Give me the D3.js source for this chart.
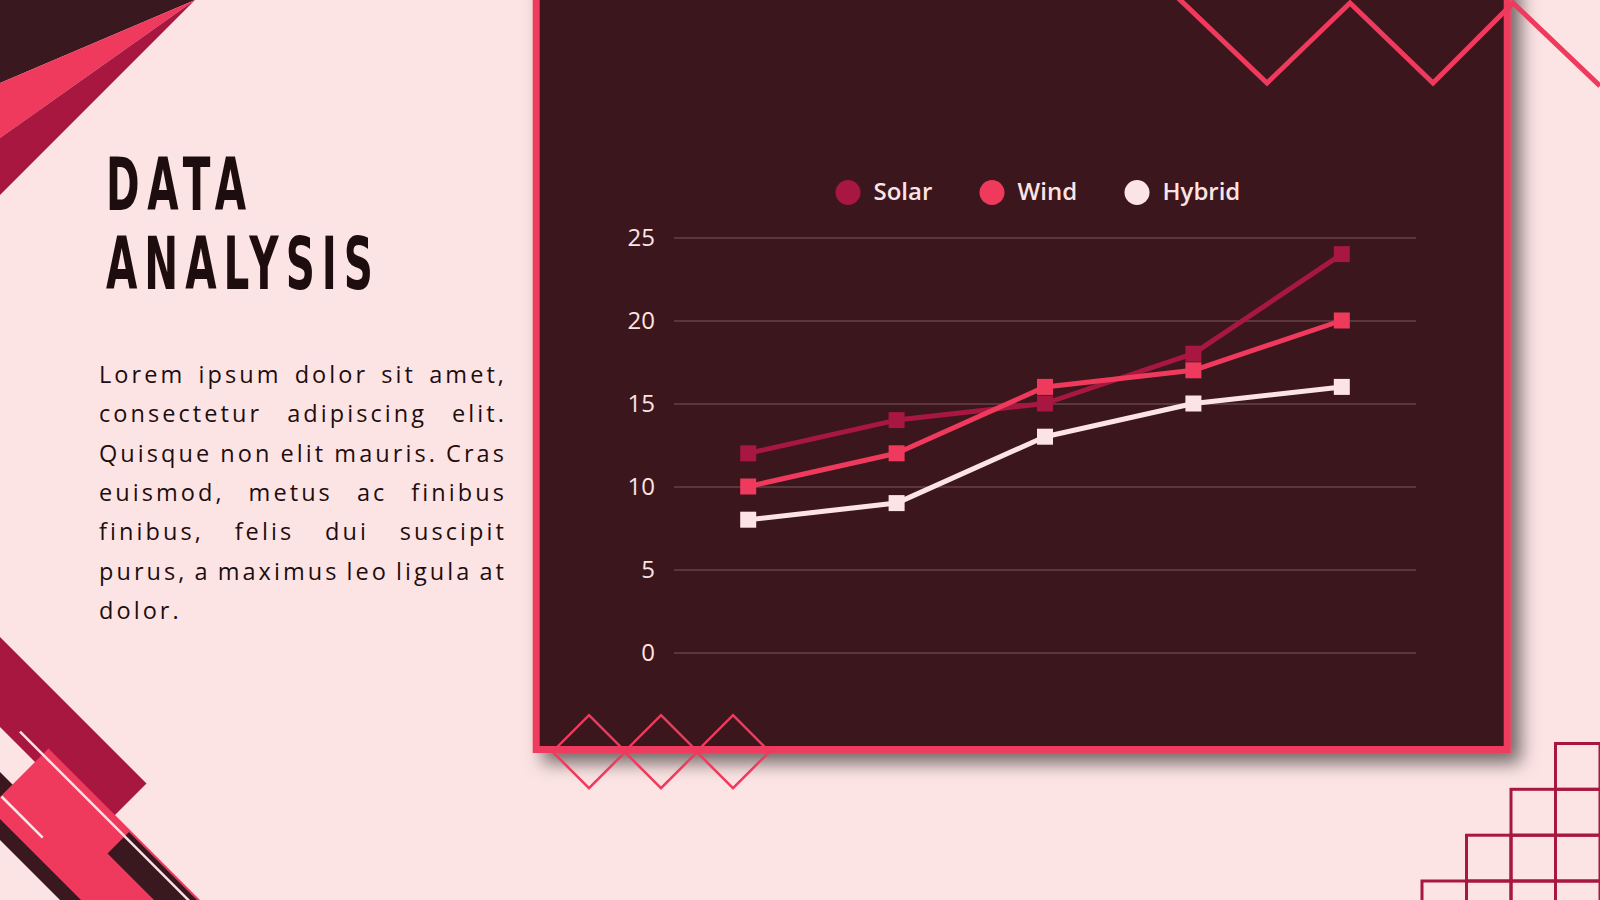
<!DOCTYPE html>
<html>
<head>
<meta charset="utf-8">
<title>Data Analysis</title>
<script src="https://cdn.jsdelivr.net/npm/d3@7"></script>
<style>
  html, body { margin: 0; padding: 0; background: #fde4e4; }
  svg { display: block; }
</style>
</head>
<body>
<div id="slide"></div>
<script>
// ==============================
// DATA
// ==============================

const periods = ["P1", "P2", "P3", "P4", "P5"];   // x categories (not labelled on the slide)
const seriesNames = ["Solar", "Wind", "Hybrid"];
const solarValues = [12, 14, 15, 18, 24];
const windValues = [10, 12, 16, 17, 20];
const hybridValues = [8, 9, 13, 15, 16];
const yTicks = [0, 5, 10, 15, 20, 25];

const titleLines = ["DATA", "ANALYSIS"];
const paragraphLines = [
  "Lorem ipsum dolor sit amet,",
  "consectetur adipiscing elit.",
  "Quisque non elit mauris. Cras",
  "euismod, metus ac finibus",
  "finibus, felis dui suscipit",
  "purus, a maximus leo ligula at",
  "dolor."
];

// palette
const bg = "#fde4e4";
const dark = "#3a181f";
const ink = "#1e0d0f";
const crimson = "#a8173f";
const rose = "#ef3a5d";

const seriesColors = [crimson, rose, bg];
const seriesValues = [solarValues, windValues, hybridValues];

// ==============================
// SVG SETUP
// ==============================

const width = 1600;
const height = 900;

const svg = d3.select("#slide")
  .append("svg")
  .attr("width", width)
  .attr("height", height);

svg.append("rect")
  .attr("width", width)
  .attr("height", height)
  .attr("fill", bg);

const defs = svg.append("defs");

// soft shadow under the chart panel
defs.append("filter")
  .attr("id", "panel-shadow")
  .attr("x", "-10%").attr("y", "-10%")
  .attr("width", "125%").attr("height", "125%")
  .append("feDropShadow")
  .attr("dx", 10)
  .attr("dy", 10)
  .attr("stdDeviation", 9)
  .attr("flood-color", "#000")
  .attr("flood-opacity", 0.55);

// ==============================
// DECORATION (corners)
// ==============================

// top-left fan of triangles
const fan = [
  { pts: [[0, 0], [195, 0], [0, 83]], fill: dark },
  { pts: [[0, 83], [195, 0], [0, 138]], fill: rose },
  { pts: [[0, 138], [195, 0], [0, 195]], fill: crimson }
];
svg.append("g")
  .selectAll("polygon")
  .data(fan)
  .enter()
  .append("polygon")
  .attr("points", d => d.pts.join(" "))
  .attr("fill", d => d.fill);

// bottom-left diagonal bands
const bands = [
  { pts: [[-100, 537], [146.5, 783.5], [101.5, 828.5], [-100, 627]], fill: crimson },
  { pts: [[-100, 672], [300, 1072], [300, 1140], [-100, 740]], fill: dark },
  { pts: [[48.5, 748.5], [300, 1000], [300, 1119], [-11, 808]], fill: rose },
  { pts: [[129, 832], [400, 1103], [400, 1146], [107.5, 853.5]], fill: dark }
];
const cornerBL = svg.append("g");
cornerBL.selectAll("polygon")
  .data(bands)
  .enter()
  .append("polygon")
  .attr("points", d => d.pts.join(" "))
  .attr("fill", d => d.fill);

cornerBL.selectAll("line")
  .data([[20, 731.7, 220, 931.7], [1.5, 796.5, 42.7, 837.7]])
  .enter()
  .append("line")
  .attr("x1", d => d[0]).attr("y1", d => d[1])
  .attr("x2", d => d[2]).attr("y2", d => d[3])
  .attr("stroke", bg)
  .attr("stroke-width", 2.5);

// bottom-right stair grid
const gridX = [1422, 1466.5, 1511, 1555.5, 1600];
const gridY = [743.5, 789.3, 835.2, 881, 927];
const cells = [];
for (let r = 0; r < 4; r++) {
  for (let c = 3 - r; c < 4; c++) cells.push({ r, c });
}
svg.append("g")
  .selectAll("rect")
  .data(cells)
  .enter()
  .append("rect")
  .attr("x", d => gridX[d.c])
  .attr("y", d => gridY[d.r])
  .attr("width", d => gridX[d.c + 1] - gridX[d.c])
  .attr("height", d => gridY[d.r + 1] - gridY[d.r])
  .attr("fill", "none")
  .attr("stroke", crimson)
  .attr("stroke-width", 3);

// ==============================
// TITLE + PARAGRAPH
// ==============================

// narrow, heavy display lettering: squeeze the glyphs, then spread them out a little
const titleWidths = [140, 267];
const titleGap = 7;
const titles = svg.append("g")
  .selectAll("text")
  .data(titleLines)
  .enter()
  .append("text")
  .attr("font-family", "'DejaVu Sans Condensed', 'DejaVu Sans', sans-serif")
  .attr("font-weight", 700)
  .attr("font-size", 73)
  .attr("fill", ink)
  .text(d => d);

const titleNatural = titles.nodes().map(n => n.getComputedTextLength());
const titleSqueeze = d3.min(titleLines, (t, i) =>
  (titleWidths[i] - titleGap * (t.length - 1)) / titleNatural[i]);

titles
  .attr("transform", (d, i) => `translate(106,${210 + i * 78.5}) scale(${titleSqueeze},1)`)
  .attr("textLength", (d, i) => titleWidths[i] / titleSqueeze)
  .attr("lengthAdjust", "spacing");

// justified body text: place words one by one
const paraLeft = 99;
const paraWidth = 408;
const para = svg.append("g")
  .attr("font-family", "'Open Sans', sans-serif")
  .attr("font-size", 23.5)
  .attr("fill", ink);

const lineNodes = paragraphLines.map((line, i) => {
  const words = line.split(" ");
  const nodes = words.map(w => para.append("text").attr("y", 383 + i * 39.3).text(w));
  const w0 = nodes.map(n => n.node().getComputedTextLength());
  return { words, nodes, w0 };
});

// widest letter-spacing that still leaves a normal word gap on the tightest line
const minGap = 7;
const spacing = d3.min(lineNodes.slice(0, -1), l => {
  const chars = d3.sum(l.words, w => w.length);
  return (paraWidth - d3.sum(l.w0) - minGap * (l.words.length - 1)) / chars;
});

lineNodes.forEach((l, i) => {
  const widths = l.words.map((w, k) => l.w0[k] + spacing * w.length);
  const isLast = i === lineNodes.length - 1;
  const gap = isLast || l.words.length < 2
    ? minGap
    : (paraWidth - d3.sum(widths)) / (l.words.length - 1);
  let x = paraLeft;
  l.nodes.forEach((n, k) => {
    n.attr("x", x).attr("letter-spacing", spacing);
    x += widths[k] + gap;
  });
});

// ==============================
// CHART PANEL
// ==============================

svg.append("rect")
  .attr("x", 536.2)
  .attr("y", -20)
  .attr("width", 971)
  .attr("height", 769.5)
  .attr("fill", dark)
  .attr("stroke", rose)
  .attr("stroke-width", 7)
  .attr("filter", "url(#panel-shadow)");

// zigzag at the top edge
svg.append("polyline")
  .attr("points", [[1175, -5], [1267, 83], [1350, 3], [1433, 83], [1513, 3], [1600, 86]].join(" "))
  .attr("fill", "none")
  .attr("stroke", rose)
  .attr("stroke-width", 5)
  .attr("stroke-linejoin", "miter");

// diamonds on the bottom border
const diamondCx = [589, 661, 733];
svg.append("g")
  .selectAll("path")
  .data(diamondCx)
  .enter()
  .append("path")
  .attr("d", cx => `M${cx},715.2 L${cx + 36.5},751.7 L${cx},788.2 L${cx - 36.5},751.7 Z`)
  .attr("fill", "none")
  .attr("stroke", rose)
  .attr("stroke-width", 2.5);

// ==============================
// LINE CHART
// ==============================

const x = d3.scalePoint()
  .domain(periods)
  .range([674, 1416])
  .padding(0.5);

const y = d3.scaleLinear()
  .domain([0, 25])
  .range([652.5, 237.5]);

const yAxis = d3.axisLeft(y)
  .tickValues(yTicks)
  .tickSizeInner(-(1416 - 674))
  .tickSizeOuter(0)
  .tickPadding(19);

const axisG = svg.append("g")
  .attr("transform", "translate(674,0)")
  .call(yAxis);

axisG.select(".domain").remove();
axisG.selectAll(".tick line")
  .attr("stroke", bg)
  .attr("stroke-opacity", 0.22)
  .attr("stroke-width", 1.3);
axisG.selectAll(".tick text")
  .attr("fill", bg)
  .attr("font-family", "'Open Sans', sans-serif")
  .attr("font-weight", 500)
  .attr("font-size", 24);

const lineGen = d3.line()
  .x((d, i) => x(periods[i]))
  .y(d => y(d));

const series = svg.append("g")
  .selectAll("g")
  .data(seriesValues)
  .enter()
  .append("g");

series.append("path")
  .attr("d", d => lineGen(d))
  .attr("fill", "none")
  .attr("stroke", (d, i) => seriesColors[i])
  .attr("stroke-width", 5)
  .attr("stroke-linejoin", "round");

const markerSize = 16;
series.each(function (vals, si) {
  d3.select(this).selectAll("rect")
    .data(vals)
    .enter()
    .append("rect")
    .attr("x", (d, i) => x(periods[i]) - markerSize / 2)
    .attr("y", d => y(d) - markerSize / 2)
    .attr("width", markerSize)
    .attr("height", markerSize)
    .attr("fill", seriesColors[si]);
});

// legend
const legendX = [848, 992, 1137];
const legend = svg.append("g")
  .selectAll("g")
  .data(seriesNames)
  .enter()
  .append("g")
  .attr("transform", (d, i) => `translate(${legendX[i]},192.5)`);

legend.append("circle")
  .attr("r", 12.5)
  .attr("fill", (d, i) => seriesColors[i]);

legend.append("text")
  .attr("x", 25.5)
  .attr("y", 7)
  .attr("font-family", "'Open Sans', sans-serif")
  .attr("font-weight", 600)
  .attr("font-size", 24)
  .attr("fill", bg)
  .text(d => d);
</script>
</body>
</html>
